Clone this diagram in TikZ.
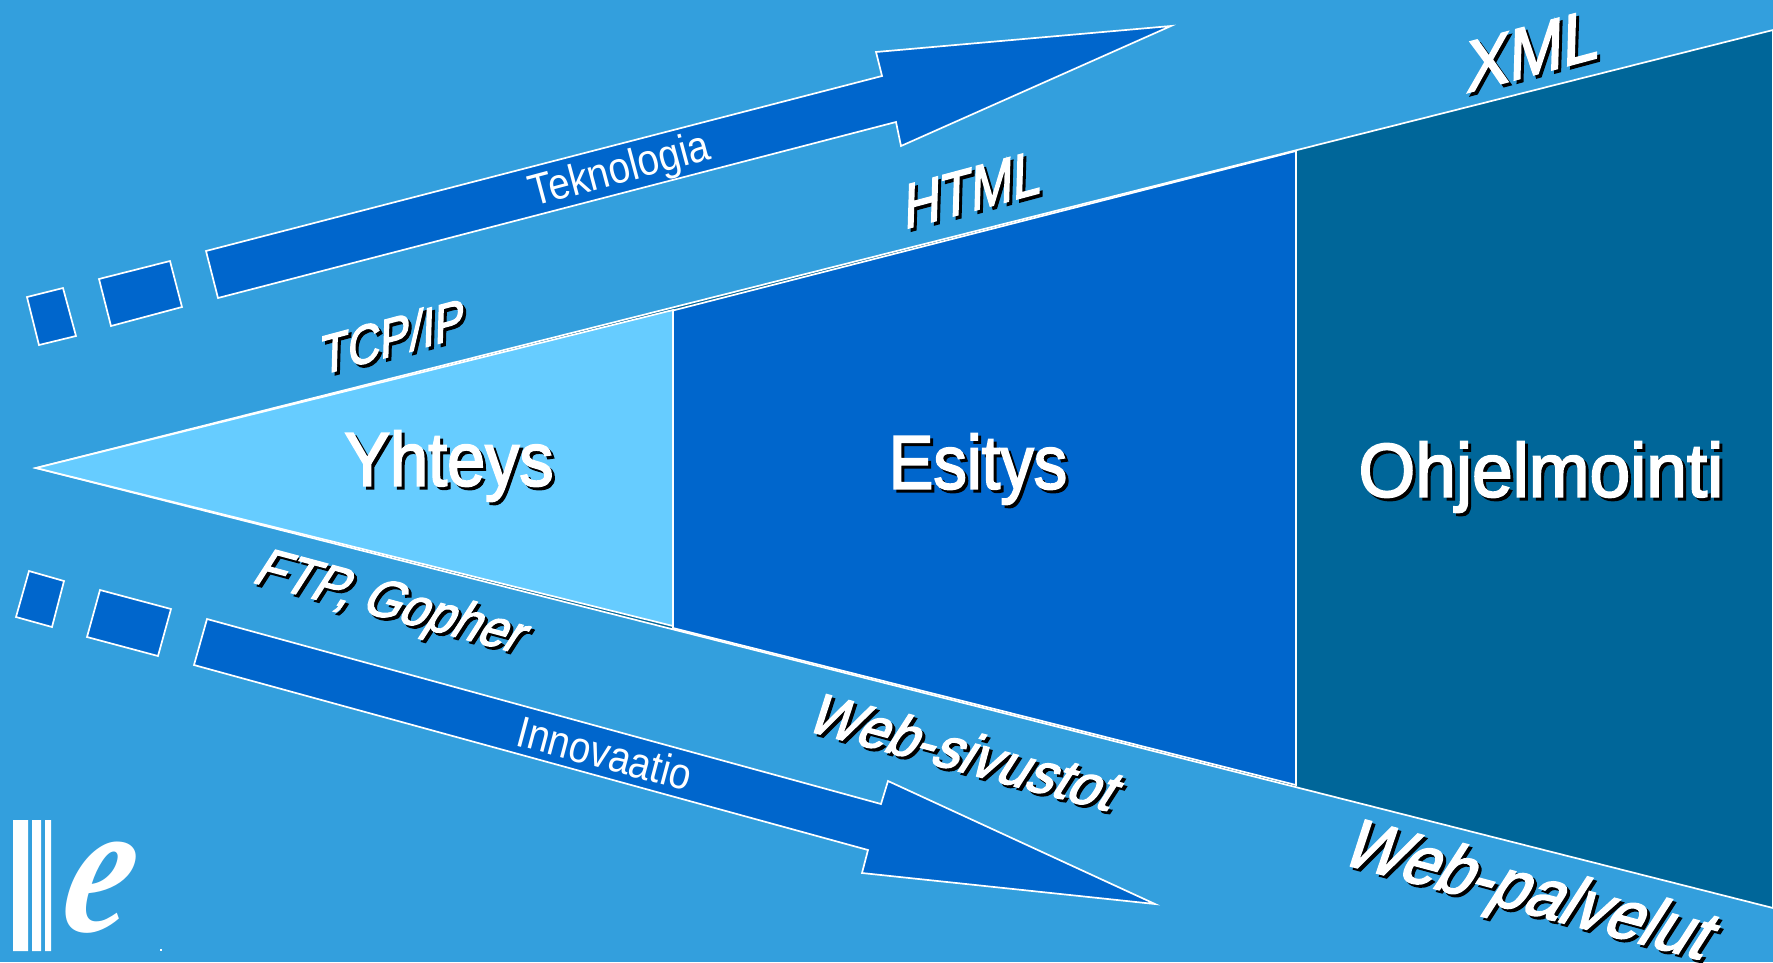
\documentclass[tikz,border=0pt]{standalone}
\usepackage{fontspec}
\setmainfont{Liberation Sans}
\newfontfamily\heavyfont[FakeBold=2.6]{Liberation Sans}
\newfontfamily\logofont{Liberation Serif}
\definecolor{bgblue}{HTML}{339FDD}
\definecolor{darkblue}{HTML}{006699}
\definecolor{midblue}{HTML}{0066CC}
\definecolor{lightblue}{HTML}{66CCFF}
\tikzset{
  outl/.style={draw=white,line width=1.7pt,line join=miter,fill=#1},
  bigtxt/.style={inner sep=0pt,transform shape,font=\heavyfont\fontsize{76}{80}\selectfont},
  labup/.style={inner sep=0pt,rotate=15,xslant=.3,transform shape,font=\heavyfont\fontsize{#1}{60}\selectfont},
  labdown/.style={inner sep=0pt,rotate=-15,xslant=.32,transform shape,font=\heavyfont\fontsize{#1}{60}\selectfont},
  thintxt/.style={white,inner sep=0pt,rotate=#1,xscale=.88,transform shape,font=\fontsize{44}{46}\selectfont},
}
\newcommand{\shlabel}[4]{%
  \path (#3) ++(3,3) node[#2,black] {#4};
  \node[#2,white] (#1) at (#3) {#4};
}
\begin{document}
\begin{tikzpicture}[x=1pt,y=-1pt]
  \useasboundingbox[fill=bgblue] (0,0) rectangle (1773,962);
  % wedge
  \draw[outl=darkblue] (36,468) -- (1773,30) -- (1773,908) -- cycle;
  \draw[outl=midblue] (673,310.5) -- (1296,151) -- (1296,785) -- (673,628) -- cycle;
  \draw[outl=lightblue] (36,468) -- (673,310) -- (673,626) -- cycle;
  % upper arrow
  \draw[outl=midblue] (27,297) -- (63,288) -- (76,336) -- (39,345) -- cycle;
  \draw[outl=midblue] (99,279) -- (170,261) -- (182,307) -- (111,326) -- cycle;
  \draw[outl=midblue] (206,251) -- (882,76) -- (876,52) -- (1171,26) -- (901,146) -- (896,122) -- (218,298) -- cycle;
  % lower arrow
  \draw[outl=midblue] (29,571) -- (64,581) -- (52,627) -- (16,617) -- cycle;
  \draw[outl=midblue] (100,590) -- (171,609) -- (158,656) -- (87,637) -- cycle;
  \draw[outl=midblue] (207,619) -- (881,804) -- (888,781) -- (1155,904) -- (862,873) -- (868,850) -- (194,665) -- cycle;
  % texts
  \shlabel{yhteys}{bigtxt,xscale=.9}{449,466}{Yhteys}
  \shlabel{esitys}{bigtxt,xscale=.88}{978,469}{Esitys}
  \shlabel{ohjelm}{bigtxt,xscale=.96}{1541,477}{Ohjelmointi}
  \shlabel{xml}{{labup=70},xscale=.95}{1533,50}{XML}
  \shlabel{html}{{labup=61},xscale=.85}{973,189}{HTML}
  \shlabel{tcpip}{{labup=53},xscale=.87}{393,336}{TCP/IP}
  \shlabel{ftp}{{labdown=54},xscale=.9}{391,605}{FTP, Gopher}
  \shlabel{websiv}{{labdown=58},xscale=.94}{967,752}{Web-sivustot}
  \shlabel{webpal}{{labdown=70},xscale=.92}{1529,895}{Web-palvelut}
  \node[thintxt=15] (tekno) at (620,172) {Teknologia};
  \node[thintxt=-15] (innov) at (605,753) {Innovaatio};
  % logo
  \fill[white] (13,820) rectangle (28,951) (32,820) rectangle (41,951) (45,820) rectangle (51,951);
  \fill[white] (160,949) rectangle (162,951);
  \node[white,inner sep=0pt,xslant=.2,xscale=.8,transform shape,font=\logofont\bfseries\itshape\fontsize{190}{190}\selectfont] (logoe) at (100,888) {e};
\end{tikzpicture}
\end{document}
